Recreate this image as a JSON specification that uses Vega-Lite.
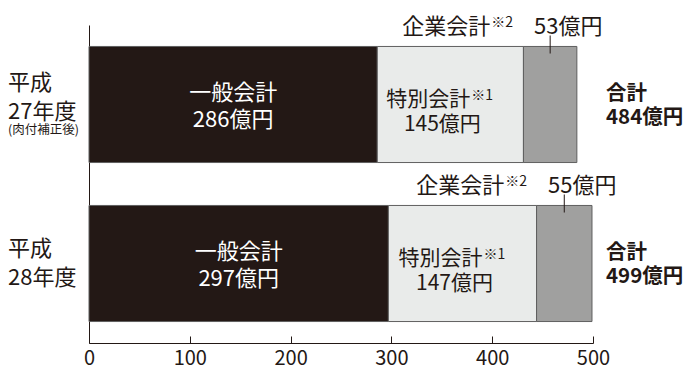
{
  "$schema": "https://vega.github.io/schema/vega-lite/v6.json",
  "width": 504,
  "height": 318,
  "autosize": {"type": "none"},
  "padding": {"left": 89, "top": 25, "right": 96, "bottom": 27},
  "background": "#ffffff",
  "config": {
    "view": {"stroke": null},
    "font": "Noto Sans CJK JP",
    "text": {"font": "Noto Sans CJK JP", "fontSize": 21, "color": "#231815", "baseline": "middle"}
  },
  "datasets": {
    "seg": [
      {"year": "平成27年度", "cat": "一般会計", "k": 1, "value": 286, "amt": "286億円", "sup": ""},
      {"year": "平成27年度", "cat": "特別会計", "k": 2, "value": 145, "amt": "145億円", "sup": "※1"},
      {"year": "平成27年度", "cat": "企業会計", "k": 3, "value": 53, "amt": "53億円", "sup": "※2"},
      {"year": "平成28年度", "cat": "一般会計", "k": 1, "value": 297, "amt": "297億円", "sup": ""},
      {"year": "平成28年度", "cat": "特別会計", "k": 2, "value": 147, "amt": "147億円", "sup": "※1"},
      {"year": "平成28年度", "cat": "企業会計", "k": 3, "value": 55, "amt": "55億円", "sup": "※2"}
    ],
    "tot": [
      {"year": "平成27年度", "total": "484億円"},
      {"year": "平成28年度", "total": "499億円"}
    ],
    "rows": [
      {"year": "平成27年度", "label": "平成\n27年度", "note": "(肉付補正後)"},
      {"year": "平成28年度", "label": "平成\n28年度", "note": ""}
    ]
  },
  "layer": [
    {
      "data": {"name": "seg"},
      "mark": {"type": "bar", "stroke": "#5f5f5f", "strokeWidth": 1},
      "encoding": {
        "y": {
          "field": "year", "type": "nominal",
          "scale": {"domain": ["平成27年度", "平成28年度"], "paddingInner": 0.27, "paddingOuter": 0.135},
          "axis": {"labels": false, "ticks": false, "title": null, "domainColor": "#231815", "domainWidth": 1}
        },
        "x": {
          "field": "value", "type": "quantitative", "stack": "zero",
          "scale": {"domain": [0, 500], "nice": false},
          "axis": {
            "values": [0, 100, 200, 300, 400, 500], "tickSize": -7, "labelPadding": 12,
            "grid": false, "title": null, "labelFontSize": 20, "labelColor": "#231815",
            "domainColor": "#231815", "tickColor": "#231815", "labelFlush": false,
            "labelFont": "Noto Sans CJK JP", "labelBaseline": "top"
          }
        },
        "color": {
          "field": "cat", "type": "nominal",
          "scale": {"domain": ["一般会計", "特別会計", "企業会計"], "range": ["#231815", "#e9ebea", "#a0a09f"]},
          "legend": null
        },
        "order": {"field": "k"}
      }
    },
    {
      "data": {"name": "seg"},
      "encoding": {
        "y": {"field": "year", "type": "nominal"},
        "x": {"field": "value", "type": "quantitative", "stack": "zero", "bandPosition": 0.5},
        "detail": {"field": "cat"},
        "order": {"field": "k"}
      },
      "layer": [
        {"mark": {"type": "text", "color": "#ffffff", "dy": -12, "fontSize": 22},
         "encoding": {"text": {"condition": {"test": "datum.k === 1", "field": "cat"}, "value": ""}}},
        {"mark": {"type": "text", "color": "#ffffff", "dy": 15, "fontSize": 22},
         "encoding": {"text": {"condition": {"test": "datum.k === 1", "field": "amt"}, "value": ""}}},
        {"mark": {"type": "text", "align": "right", "dx": 20, "dy": -5},
         "encoding": {"text": {"condition": {"test": "datum.k === 2", "field": "cat"}, "value": ""}}},
        {"mark": {"type": "text", "align": "left", "dx": 21, "dy": -9, "fontSize": 14},
         "encoding": {"text": {"condition": {"test": "datum.k === 2", "field": "sup"}, "value": ""}}},
        {"mark": {"type": "text", "dx": -8, "dy": 20},
         "encoding": {"text": {"condition": {"test": "datum.k === 2", "field": "amt"}, "value": ""}}},
        {"mark": {"type": "text", "align": "right", "dx": -60, "dy": -78, "fontSize": 22},
         "encoding": {"text": {"condition": {"test": "datum.k === 3", "field": "cat"}, "value": ""}}},
        {"mark": {"type": "text", "align": "left", "dx": -59, "dy": -82, "fontSize": 14},
         "encoding": {"text": {"condition": {"test": "datum.k === 3", "field": "sup"}, "value": ""}}},
        {"mark": {"type": "text", "dx": 18, "dy": -78, "fontSize": 22},
         "encoding": {"text": {"condition": {"test": "datum.k === 3", "field": "amt"}, "value": ""}}},
        {"mark": {"type": "tick", "size": 18, "thickness": 1, "yOffset": -60, "color": "#231815"},
         "encoding": {"opacity": {"condition": {"test": "datum.k === 3", "value": 1}, "value": 0}}}
      ]
    },
    {
      "data": {"name": "tot"},
      "encoding": {
        "y": {"field": "year", "type": "nominal"},
        "x": {"datum": 500, "type": "quantitative"}
      },
      "layer": [
        {"mark": {"type": "text", "align": "left", "dx": 13, "dy": -11, "fontWeight": "bold", "fontSize": 20.5},
         "encoding": {"text": {"value": "合計"}}},
        {"mark": {"type": "text", "align": "left", "dx": 13, "dy": 13, "fontWeight": "bold", "fontSize": 20.5},
         "encoding": {"text": {"field": "total"}}}
      ]
    },
    {
      "data": {"name": "rows"},
      "encoding": {
        "y": {"field": "year", "type": "nominal"},
        "x": {"datum": 0, "type": "quantitative"}
      },
      "layer": [
        {"transform": [{"filter": "datum.year === '平成27年度'"}],
         "mark": {"type": "text", "align": "left", "dx": -81, "dy": -22, "lineBreak": "\n", "lineHeight": 29, "fontSize": 22},
         "encoding": {"text": {"field": "label"}}},
        {"transform": [{"filter": "datum.year === '平成28年度'"}],
         "mark": {"type": "text", "align": "left", "dx": -81, "dy": -15, "lineBreak": "\n", "lineHeight": 29, "fontSize": 22},
         "encoding": {"text": {"field": "label"}}},
        {"mark": {"type": "text", "align": "left", "dx": -81, "dy": 25, "fontSize": 12.5},
         "encoding": {"text": {"field": "note"}}}
      ]
    }
  ]
}
